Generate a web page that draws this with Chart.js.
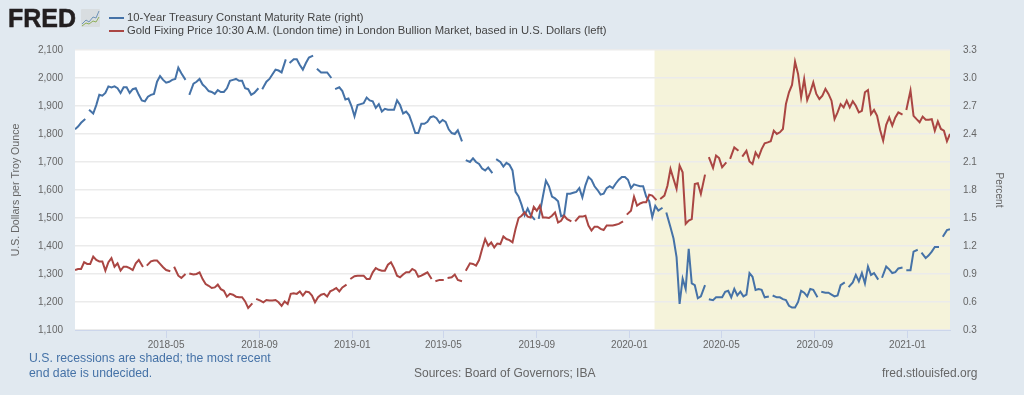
<!DOCTYPE html>
<html><head><meta charset="utf-8">
<script src="https://cdn.jsdelivr.net/npm/chart.js@4"></script>
<style>
html,body{margin:0;padding:0;background:#e1e9f0;width:1024px;height:395px;overflow:hidden;font-family:"Liberation Sans",Arial,sans-serif}
#wrap{position:relative;width:1024px;height:395px}
canvas{position:absolute;left:0;top:0}
.t{position:absolute;white-space:nowrap}
.sw{position:absolute;height:2px;width:15px}
</style></head><body><div id="wrap">
<canvas id="c" width="1024" height="395"></canvas>
<div class="t" style="left:8px;top:4px;font-size:25px;font-weight:700;line-height:28px;color:#231f20;-webkit-text-stroke:.5px #231f20">FRED</div>
<svg style="position:absolute;left:81px;top:9px" width="19" height="18" viewBox="0 0 19 18"><rect width="19" height="18" rx="1" fill="#d8dde0"/><polyline points="1,15 5,11 8,13 12,8 15,9 18,2" fill="none" stroke="#6f94b8" stroke-width="1"/><polyline points="1,17 5,14 8,15 12,12 15,13 18,8" fill="none" stroke="#8fb05a" stroke-width="1"/></svg>
<div class="sw" style="left:109px;top:17px;background:#4572a7"></div>
<div class="t" style="left:127px;top:10px;font-size:11.25px;line-height:14px;color:#444">10-Year Treasury Constant Maturity Rate (right)</div>
<div class="sw" style="left:109px;top:30px;background:#aa4643"></div>
<div class="t" style="left:127px;top:23px;font-size:11.25px;line-height:14px;color:#444">Gold Fixing Price 10:30 A.M. (London time) in London Bullion Market, based in U.S. Dollars (left)</div>
<div class="t" style="left:29px;top:351px;font-size:12.25px;line-height:15px;color:#4572a7">U.S. recessions are shaded; the most recent<br>end date is undecided.</div>
<div class="t" style="left:414px;top:366px;font-size:12px;line-height:15px;color:#666">Sources: Board of Governors; IBA</div>
<div class="t" style="left:882px;top:366px;font-size:12px;line-height:15px;color:#666">fred.stlouisfed.org</div>
</div>
<script>
const startDate = '2018-01-01';
const endDate = '2021-02-26';
const stepDays = 4;
const tickDates = ['2018-05','2018-09','2019-01','2019-05','2019-09','2020-01','2020-05','2020-09','2021-01'];
const recessionStart = '2020-02-03';
const seriesNames = ['10-Year Treasury Constant Maturity Rate (right)','Gold Fixing Price 10:30 A.M. (London time) in London Bullion Market, based in U.S. Dollars (left)'];
const treasuryRate = [
2.45,2.48,2.52,2.56,null,2.66,2.62,2.71,2.82,2.81,
2.84,2.91,2.90,2.91,2.89,2.84,2.90,2.90,2.84,2.88,
2.89,2.82,2.76,2.75,2.80,2.82,2.83,2.96,3.02,2.98,
2.95,2.96,2.98,2.99,3.11,3.05,2.98,null,2.82,2.94,
2.96,2.99,2.93,2.90,2.86,2.85,2.83,2.87,2.85,2.85,
2.89,2.97,2.98,2.99,2.97,2.97,2.89,2.88,2.82,2.84,
2.89,null,2.88,2.96,2.99,3.04,3.09,3.08,3.06,3.20,
null,3.16,3.20,3.20,3.14,3.09,3.16,3.22,3.24,null,
3.10,3.06,3.06,3.06,3.00,null,2.88,2.90,2.86,2.77,
2.78,2.70,2.59,2.71,2.72,2.73,2.79,2.76,2.75,2.68,
2.72,2.64,2.67,2.66,2.66,2.66,2.76,2.71,2.62,2.64,
2.60,2.51,2.41,2.41,2.51,2.51,2.53,2.58,2.59,2.57,
2.52,2.55,2.53,2.45,2.41,2.40,2.44,2.32,null,2.12,
2.10,2.14,2.10,2.08,2.03,2.01,2.04,1.98,null,2.13,
2.10,2.05,2.09,2.07,2.01,1.78,1.73,1.64,1.53,1.60,
1.53,1.48,null,1.49,1.73,1.90,1.84,1.73,1.71,1.68,
1.52,1.53,1.76,1.76,1.77,1.78,1.82,1.72,1.85,1.94,
1.91,1.84,1.80,1.75,1.76,1.82,1.84,1.82,1.87,1.91,
1.94,1.94,1.91,1.82,1.86,1.85,1.84,1.84,1.73,1.68,
1.51,1.63,1.58,1.61,null,1.56,1.40,1.28,1.08,0.58,
0.85,0.74,1.17,0.80,0.78,0.64,0.66,0.78,null,0.63,
0.62,0.65,0.65,0.65,0.71,0.72,0.65,0.74,0.67,0.71,
0.66,0.68,0.91,0.87,0.73,0.74,0.73,0.65,0.66,null,
0.67,0.65,0.65,0.63,0.62,0.56,0.54,0.54,0.60,0.72,
0.70,0.66,0.74,0.73,0.65,null,0.71,0.70,0.70,0.68,
0.66,0.67,0.78,0.81,null,0.76,0.81,0.89,0.82,0.91,
0.80,0.98,0.89,0.91,0.84,null,0.86,0.98,0.95,0.91,
0.92,0.96,0.97,null,0.94,0.94,1.14,1.16,null,1.13,
1.07,1.10,1.14,1.19,1.19,null,1.30,1.37,1.38];
const goldPrice = [
1314,1318,1318,1342,1336,1336,1362,1350,1345,1345,
1312,1342,1357,1326,1338,1312,1326,1326,1321,1314,
1338,1350,1325,null,1330,1345,1348,1348,1336,1324,
1314,1310,null,1326,1294,1286,1300,null,1302,1298,
1300,1306,1282,1264,1258,1250,1252,1262,1246,1240,
1219,1229,1226,1219,1217,1217,1202,1179,1195,null,
1211,1205,1199,1207,1205,1205,1207,1199,1186,1202,
1193,1229,1231,1229,1238,1223,1237,1235,1223,1199,
1217,1226,1229,1220,1238,1243,1250,1238,1252,1262,
null,1282,1292,1294,1294,1294,1282,1282,1306,1321,
1315,1312,1312,1333,1342,1321,1294,1288,1298,1306,
1306,1318,1312,1290,1294,1300,1306,1282,null,1274,
1279,1279,null,1286,1288,1298,1279,1274,null,1312,
1338,1336,1330,1350,1389,1425,1401,1413,1395,1409,
1407,1434,1425,1421,1413,1461,1500,1508,1520,1505,
1502,1540,1526,1544,1502,1502,1500,1508,1520,1484,
1490,1508,1496,1488,null,1488,1505,1505,1508,1473,
1455,1469,1469,1461,1457,1473,1473,1473,1476,1479,
1488,null,1512,1526,1576,1544,1552,1556,1556,1583,
1580,1564,null,1568,1580,1615,1675,1639,1604,1687,
1663,1479,1491,1496,1621,1624,1586,1655,null,1717,
1679,1723,1714,1681,1699,null,1711,1752,1740,null,
1719,1740,1702,1693,1734,1717,1746,1767,1770,1774,
1812,1800,1806,1818,1907,1949,1975,2058,2014,1931,
1996,1921,1949,1984,1943,1925,1937,1961,1943,1919,
1853,1877,1907,1895,1919,1895,1917,1901,1877,1883,
1949,1957,1871,1886,1865,1814,1776,1833,1859,1830,
1859,1877,1869,null,1886,1955,1865,1853,1842,1862,
1851,1851,1853,1812,1845,1818,1812,1774,1800];

const toDay = s => (Date.parse(s.length === 7 ? s + '-01' : s) - Date.parse(startDate)) / 864e5;
// Missing days are short: the readings either side of a gap sit closer to it.
const gapNudge = 1.5;
const points = vals => vals.map((y, i) => {
  let x = i * stepDays;
  if (vals[i + 1] === null) x += gapNudge;
  if (vals[i - 1] === null) x -= gapNudge;
  return {x, y};
});
const tickDays = tickDates.map(toDay);

const recessionShade = {
  id: 'recessionShade',
  beforeDraw(chart) {
    const {ctx, chartArea: a, scales: {x}} = chart;
    ctx.save();
    ctx.fillStyle = '#ffffff';
    ctx.fillRect(a.left, a.top, a.width, a.height);
    const x0 = x.getPixelForValue(toDay(recessionStart));
    ctx.fillStyle = '#f5f3da';
    ctx.fillRect(x0, a.top, a.right - x0, a.height);
    ctx.restore();
  }
};

new Chart(document.getElementById('c'), {
  type: 'line',
  plugins: [recessionShade],
  data: {datasets: [
    {label: seriesNames[0], data: points(treasuryRate), yAxisID: 'yR', borderColor: '#4572a7', borderWidth: 2, pointRadius: 0, tension: 0, spanGaps: false, order: 2},
    {label: seriesNames[1], data: points(goldPrice), yAxisID: 'yL', borderColor: '#aa4643', borderWidth: 2, pointRadius: 0, tension: 0, spanGaps: false, order: 1}
  ]},
  options: {
    responsive: false, animation: false,
    layout: {padding: {top: 50, left: 0, right: 0, bottom: 0}},
    plugins: {legend: {display: false}, tooltip: {enabled: false}},
    scales: {
      x: {
        type: 'linear', min: 0, max: toDay(endDate),
        afterBuildTicks(s) { s.ticks = tickDays.map(value => ({value})); },
        afterFit(s) { s.height = 65; },
        grid: {drawOnChartArea: false, drawTicks: true, tickLength: 8, tickColor: '#ccd6eb', lineWidth: 1},
        border: {display: true, color: '#ccd6eb', width: 1},
        ticks: {autoSkip: false, maxRotation: 0, minRotation: 0, padding: 1, color: '#666',
          font: {family: '"Liberation Sans"', size: 10},
          callback(v) { return tickDates[tickDays.indexOf(v)] || ''; }}
      },
      yL: {
        position: 'left', min: 1100, max: 2100,
        afterFit(s) { s.width = 75; },
        grid: {color: '#ebebeb', lineWidth: 1.5, drawTicks: false},
        border: {display: false},
        title: {display: true, text: 'U.S. Dollars per Troy Ounce', color: '#666', font: {family: '"Liberation Sans"', size: 10.6}, padding: {top: 10, bottom: 0}},
        ticks: {stepSize: 100, padding: 12, color: '#666', font: {family: '"Liberation Sans"', size: 10},
          callback: v => v.toLocaleString('en-US')}
      },
      yR: {
        position: 'right', min: 0.3, max: 3.3,
        afterFit(s) { s.width = 74; },
        grid: {drawOnChartArea: false, drawTicks: false},
        border: {display: false},
        title: {display: true, text: 'Percent', color: '#666', font: {family: '"Liberation Sans"', size: 10.2}, padding: {top: 19, bottom: 0}},
        ticks: {stepSize: 0.3, padding: 13, color: '#666', font: {family: '"Liberation Sans"', size: 10},
          callback: v => v.toFixed(1)}
      }
    }
  }
});
</script></body></html>
